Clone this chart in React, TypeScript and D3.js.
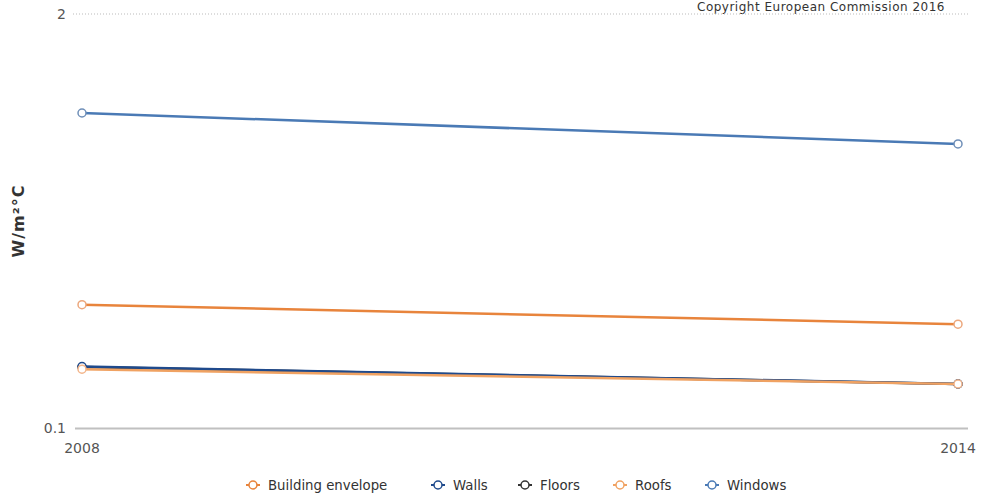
import React from 'react';
import * as d3 from 'd3';

const years = ['2008', '2014'];
const seriesNames = ['Building envelope', 'Walls', 'Floors', 'Roofs', 'Windows'];
const buildingEnvelope = [0.244, 0.212];
const walls = [0.156, 0.1375];
const floors = [0.1555, 0.1375];
const roofs = [0.153, 0.1375];
const windows = [0.977, 0.781];
const yTicks = [0.1, 2];
const colors = ['#e8843c', '#1f4a8c', '#333333', '#f0a262', '#4a7ab5'];
const markerColors = ['#eca77c', '#1f4a8c', '#333333', '#f3b58a', '#6f8fb8'];

export default function App() {
  const W = 981, H = 493;
  const x = d3.scalePoint<string>().domain(years).range([82, 958]);
  const y = d3.scaleLog().domain([0.1, 2]).range([428, 14]);
  const data = [buildingEnvelope, walls, floors, roofs, windows];
  const line = d3.line<number>().x((_, i) => x(years[i]) as number).y((d) => y(d));
  const drawOrder = [4, 0, 2, 1, 3];
  const legendX = [253, 438, 525, 620, 712];
  const font = 'Verdana, "DejaVu Sans", sans-serif';
  return (
    <svg width={W} height={H} style={{ position: 'absolute', left: 0, top: 0, background: '#fff' }} fontFamily={font}>
      <text x={945} y={11} textAnchor="end" fontSize={12} letterSpacing={0.5} fill="#333">Copyright European Commission 2016</text>
      <line x1={73} x2={968} y1={y(2)} y2={y(2)} stroke="#bbb" strokeDasharray="1,2" />
      <line x1={75} x2={968} y1={428.5} y2={428.5} stroke="#c0c0c0" strokeWidth={2} />
      {yTicks.map((t) => (
        <text key={t} x={66} y={y(t) + 5} textAnchor="end" fontSize={14} fill="#555">{t}</text>
      ))}
      {years.map((yr) => (
        <text key={yr} x={x(yr)} y={453} textAnchor="middle" fontSize={14} fill="#555">{yr}</text>
      ))}
      <text transform="translate(24,221) rotate(-90)" textAnchor="middle" fontSize={16} letterSpacing={1} fontWeight="bold" fill="#333">W/m²°C</text>
      {drawOrder.map((si) => (
        <g key={si}>
          <path d={line(data[si]) || ''} fill="none" stroke={colors[si]} strokeWidth={2.5} />
          {data[si].map((v, i) => (
            <circle key={i} cx={x(years[i])} cy={y(v)} r={4} fill="#fff" stroke={markerColors[si]} strokeWidth={1.5} />
          ))}
        </g>
      ))}
      {seriesNames.map((n, i) => (
        <g key={n} transform={`translate(${legendX[i]},485)`}>
          <line x1={-7} x2={7} y1={0} y2={0} stroke={colors[i]} strokeWidth={2} />
          <circle r={4} fill="#fff" stroke={colors[i]} strokeWidth={1.5} />
          <text x={15} y={5} fontSize={13.3} fill="#333">{n}</text>
        </g>
      ))}
    </svg>
  );
}
